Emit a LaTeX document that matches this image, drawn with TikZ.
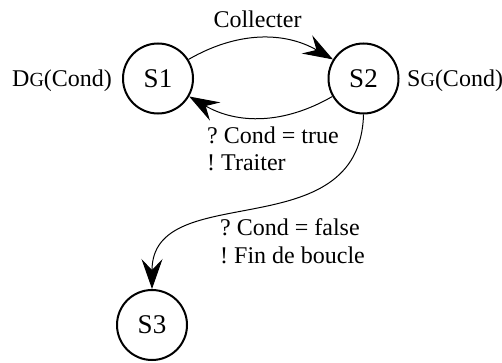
\documentclass[tikz,border=0pt]{standalone}
\usepackage{fontspec}
\setmainfont{Liberation Serif}
\usetikzlibrary{arrows.meta}
\frenchspacing
\tikzset{
  state/.style={draw, circle, line width=2pt, minimum size=70pt, inner sep=0pt, font=\fontsize{27}{30}\selectfont},
  lbl/.style={inner sep=0pt, font=\fontsize{24}{28}\selectfont},
  conn/.style={line width=1pt, -{Stealth[length=30pt,width=21pt,inset=11pt]}}
}
\newcommand{\smallG}{{\fontsize{20}{20}\selectfont G}}
\begin{document}
\begin{tikzpicture}[x=1pt,y=1pt]
\useasboundingbox (0,0) rectangle (502,362);
\node[state] (S1) at (158,283.5) {S1};
\node[state] (S2) at (363.5,283.5) {S2};
\node[state] (S3) at (152,37) {S3};
\node[lbl, anchor=base west] (dg) at (12,275) {D\smallG(Cond)};
\node[lbl, anchor=base west] (sg) at (407,275) {S\smallG(Cond)};
\node[lbl, anchor=base] (coll) at (257.5,334) {Collecter};
\node[lbl, anchor=base west] (ct1) at (207,219) {? Cond = true};
\node[lbl, anchor=base west] (ct2) at (207,192) {! Traiter};
\node[lbl, anchor=base west] (cf1) at (220,127) {? Cond = false};
\node[lbl, anchor=base west] (cf2) at (220,99) {! Fin de boucle};
\draw[conn] (S1.32) to[bend left=30] (S2.148);
\draw[conn] (S2.210) to[bend left=30] (S1.-30);
\draw[conn] (S2.south) .. controls (360,112) and (152,185) .. (S3.north);
\end{tikzpicture}
\end{document}
